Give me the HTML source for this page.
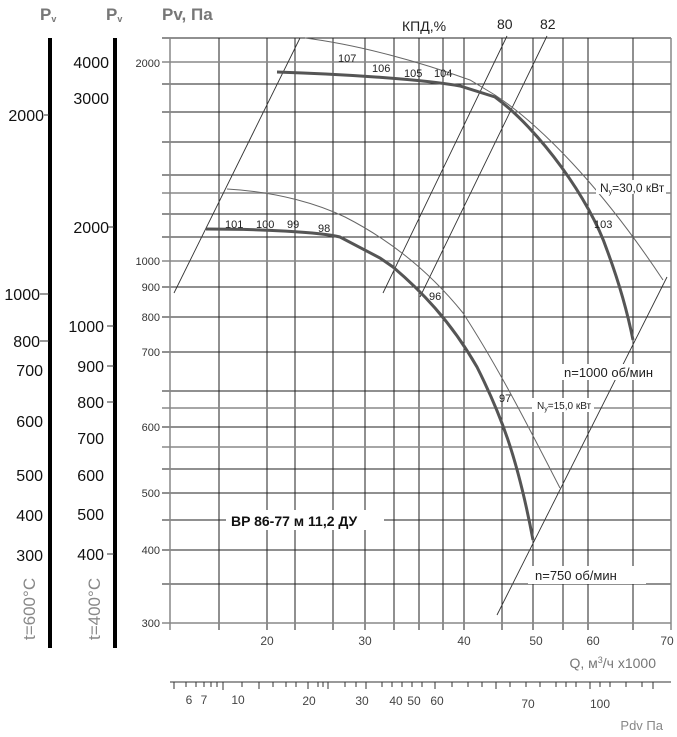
<!DOCTYPE html>
<html><head><meta charset="utf-8"><style>
html,body{margin:0;padding:0;background:#fff;}
svg{display:block;font-family:"Liberation Sans",sans-serif;}
</style></head><body>
<svg width="677" height="737" viewBox="0 0 677 737" xmlns="http://www.w3.org/2000/svg">
<rect width="677" height="737" fill="#fff"/>
<g fill="#777" font-weight="bold" font-size="17">
<text x="40" y="20">P<tspan font-size="9" dy="2">v</tspan></text>
<text x="106" y="20">P<tspan font-size="9" dy="2">v</tspan></text>
<text x="162" y="20">Pv, Па</text>
</g>
<line x1="50" y1="38" x2="50" y2="648" stroke="#000" stroke-width="4"/>
<line x1="115" y1="38" x2="115" y2="648" stroke="#000" stroke-width="4"/>
<g font-size="16" fill="#111" text-anchor="end">
<text x="44" y="121">2000</text><line x1="44" y1="115" x2="49" y2="115" stroke="#333"/>
<text x="40" y="300">1000</text><line x1="40" y1="294" x2="49" y2="294" stroke="#333"/>
<text x="40" y="347">800</text><line x1="40" y1="341" x2="49" y2="341" stroke="#333"/>
<text x="43" y="376">700</text>
<text x="43" y="427">600</text>
<text x="43" y="481">500</text>
<text x="43" y="521">400</text>
<text x="43" y="561">300</text>
<text x="109" y="68">4000</text>
<text x="109" y="104">3000</text>
<text x="109" y="233">2000</text><line x1="108" y1="227" x2="114" y2="227" stroke="#333"/>
<text x="104" y="332">1000</text><line x1="107" y1="326" x2="114" y2="326" stroke="#333"/>
<text x="104" y="372">900</text><line x1="107" y1="366" x2="114" y2="366" stroke="#333"/>
<text x="104" y="408">800</text><line x1="107" y1="402" x2="114" y2="402" stroke="#333"/>
<text x="104" y="444">700</text>
<text x="104" y="481">600</text>
<text x="104" y="520">500</text>
<text x="104" y="560">400</text><line x1="107" y1="554" x2="114" y2="554" stroke="#333"/>
</g>
<g font-size="17" fill="#888">
<text transform="translate(35,640) rotate(-90)">t=600°C</text>
<text transform="translate(100,640) rotate(-90)">t=400°C</text>
</g>
<g stroke="#222" stroke-width="1">
<line x1="219" y1="38" x2="219" y2="630"/><line x1="267" y1="38" x2="267" y2="630"/>
<line x1="295" y1="38" x2="295" y2="630"/><line x1="333" y1="38" x2="333" y2="630"/>
<line x1="365" y1="38" x2="365" y2="630"/><line x1="394" y1="38" x2="394" y2="630"/>
<line x1="419" y1="38" x2="419" y2="630"/><line x1="443" y1="38" x2="443" y2="630"/>
<line x1="464" y1="38" x2="464" y2="630"/><line x1="502" y1="38" x2="502" y2="630"/>
<line x1="533" y1="38" x2="533" y2="630"/><line x1="563" y1="38" x2="563" y2="630"/>
<line x1="588" y1="38" x2="588" y2="630"/><line x1="633" y1="38" x2="633" y2="630"/>
<line x1="162" y1="38" x2="671" y2="38"/>
<line x1="162" y1="84" x2="671" y2="84"/><line x1="162" y1="112" x2="671" y2="112"/>
<line x1="162" y1="142" x2="671" y2="142"/><line x1="162" y1="175" x2="671" y2="175"/>
<line x1="162" y1="214" x2="671" y2="214"/><line x1="162" y1="237" x2="671" y2="237"/>
<line x1="162" y1="287" x2="671" y2="287"/><line x1="162" y1="317" x2="671" y2="317"/>
<line x1="162" y1="352" x2="671" y2="352"/><line x1="162" y1="391" x2="671" y2="391"/>
<line x1="162" y1="427" x2="671" y2="427"/><line x1="162" y1="469" x2="671" y2="469"/>
<line x1="162" y1="493" x2="671" y2="493"/><line x1="162" y1="520" x2="671" y2="520"/>
<line x1="162" y1="550" x2="671" y2="550"/><line x1="162" y1="584" x2="671" y2="584"/>
</g>
<g stroke="#888" stroke-width="1.5">
<line x1="170" y1="38" x2="170" y2="630"/><line x1="671" y1="38" x2="671" y2="630"/>
<line x1="162" y1="62" x2="671" y2="62"/><line x1="162" y1="193" x2="671" y2="193"/>
<line x1="162" y1="261" x2="671" y2="261"/><line x1="162" y1="408" x2="671" y2="408"/>
<line x1="162" y1="447" x2="671" y2="447"/><line x1="162" y1="623" x2="671" y2="623"/>
</g>
<g font-size="11" fill="#333" text-anchor="end">
<text x="160" y="67">2000</text><text x="160" y="265">1000</text><text x="160" y="291">900</text>
<text x="160" y="321">800</text><text x="160" y="356">700</text><text x="160" y="431">600</text>
<text x="160" y="497">500</text><text x="160" y="554">400</text><text x="160" y="627">300</text>
</g>
<g font-size="12" fill="#444" text-anchor="middle">
<text x="267" y="645">20</text><text x="365" y="645">30</text><text x="464" y="645">40</text>
<text x="536" y="645">50</text><text x="593" y="645">60</text><text x="667" y="645">70</text>
</g>
<text x="656" y="668" font-size="14" fill="#777" text-anchor="end">Q, м<tspan font-size="9" dy="-5">3</tspan><tspan dy="5">/ч x1000</tspan></text>
<line x1="170" y1="682" x2="671" y2="682" stroke="#333"/>
<g stroke="#333">
<path d="M174 682v7M186 682v5M196 682v5M204 682v5M211 682v5M217 682v5M223 682v8M242 682v5M259 682v7M273 682v5M286 682v5M296 682v5M308 682v7M318 682v5M323 682v5M328 682v7M345 682v5M356 682v5M366 682v7M382 682v5M392 682v5M402 682v5M412 682v5M422 682v5M435 682v7M452 682v5M468 682v5M482 682v5M496 682v7M510 682v5M526 682v5M540 682v5M556 682v5M566 682v5M576 682v5M590 682v7M600 682v5M610 682v5M626 682v5M642 682v5M653 682v7"/>
</g>
<g font-size="12" fill="#444" text-anchor="middle">
<text x="189" y="704">6</text><text x="204" y="704">7</text><text x="238" y="704">10</text>
<text x="309" y="705">20</text><text x="362" y="705">30</text><text x="396" y="705">40</text>
<text x="414" y="705">50</text><text x="437" y="705">60</text><text x="528" y="708">70</text>
<text x="600" y="708">100</text>
</g>
<text x="663" y="730" font-size="13" fill="#888" text-anchor="end">Pdv Па</text>
<g stroke="#333" stroke-width="0.9" fill="none">
<line x1="174" y1="293" x2="300" y2="38"/>
<line x1="383" y1="293" x2="507" y2="36"/>
<line x1="420" y1="297" x2="547" y2="36"/>
<line x1="667" y1="277" x2="497" y2="615"/>
</g>
<g stroke="#666" stroke-width="1" fill="none">
<path d="M305 38 C360 45 420 62 470 80 L495 95 C540 125 600 185 663 280"/>
<path d="M227 189 C280 192 320 205 345 217 C390 240 430 272 463 313 C500 370 530 430 560 488"/>
</g>
<g stroke="#555" stroke-width="3" fill="none">
<path d="M277 72 C340 74 420 79 460 86 L495 97 C540 130 590 200 607 250 C620 285 628 315 633 340"/>
<path d="M206 229 C260 229 320 232 340 237 L380 258 L393 267 C420 290 450 320 477 367 C500 413 517 455 533 540"/>
</g>
<rect x="596" y="180" width="70" height="14" fill="#fff"/>
<rect x="560" y="364" width="110" height="16" fill="#fff"/>
<rect x="532" y="398" width="62" height="14" fill="#fff"/>
<rect x="528" y="566" width="118" height="18" fill="#fff"/>
<rect x="226" y="510" width="158" height="20" fill="#fff"/>
<g font-size="11" fill="#222">
<text x="600" y="192" font-size="12">N<tspan font-size="7" dy="2">у</tspan><tspan dy="-2">=30,0 кВт</tspan></text>
<text x="537" y="409" font-size="10">N<tspan font-size="7" dy="2">у</tspan><tspan dy="-2">=15,0 кВт</tspan></text>
<text x="338" y="62">107</text><text x="372" y="72">106</text><text x="404" y="77">105</text><text x="434" y="77">104</text>
<text x="594" y="228">103</text>
<text x="225" y="228">101</text><text x="256" y="228">100</text><text x="287" y="228">99</text><text x="318" y="232">98</text>
<text x="429" y="300">96</text><text x="499" y="402">97</text>
</g>
<text x="564" y="377" font-size="13" fill="#222">n=1000 об/мин</text>
<text x="535" y="580" font-size="13" fill="#222">n=750 об/мин</text>
<text x="231" y="526" font-size="14" font-weight="bold" fill="#111">BP 86-77 м 11,2 ДУ</text>
<g font-size="14" fill="#222">
<text x="402" y="31">КПД,%</text><text x="497" y="29">80</text><text x="540" y="29">82</text>
</g>
</svg>
</body></html>
